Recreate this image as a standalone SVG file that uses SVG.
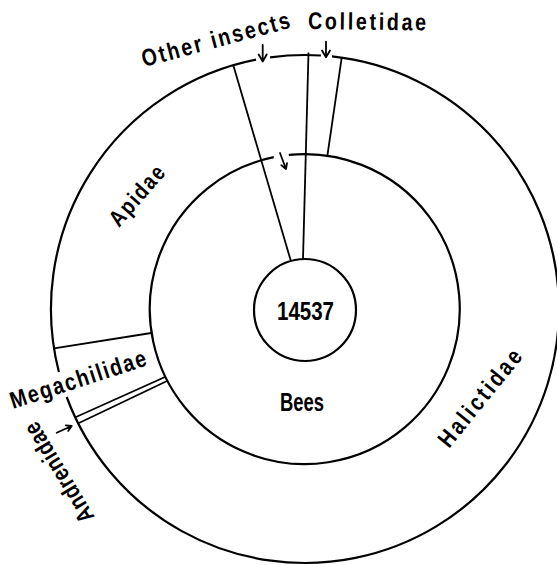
<svg xmlns="http://www.w3.org/2000/svg" width="557" height="565" viewBox="0 0 557 565">
<style>
.c{fill:none;stroke:#000;stroke-width:2.2}
.l{fill:none;stroke:#000;stroke-width:1.8}
.a{fill:none;stroke:#000;stroke-width:1.8;stroke-linecap:round;stroke-linejoin:round}
.t{font-family:"Liberation Sans",Arial,sans-serif;font-weight:bold;font-size:24px;fill:#000}
</style>
<rect width="557" height="565" fill="#fff"/>
<g id="outer-ring">
<path class="c" d="M332,56.4 A254,254 0 1 1 66.7,397"/>
<path class="c" d="M58.9,372 A254,254 0 0 1 256.1,59.7"/>
<path class="c" d="M270.1,57.4 A254,254 0 0 1 320.9,55.5"/>
</g>
<g id="bees-ring">
<path class="c" d="M288.8,154.9 A155,155 0 1 1 273.8,157.2"/>
</g>
<g id="center">
<circle class="c" cx="305" cy="310" r="51"/>
<text class="t" x="277" y="320" textLength="57" lengthAdjust="spacingAndGlyphs" style="font-size:26px">14537</text>
</g>
<g id="connectors">
<line class="l" x1="233.3" y1="65.3" x2="290.6" y2="260.1"/>
<line class="l" x1="308.5" y1="52.5" x2="303" y2="259"/>
<line class="l" x1="341.7" y1="57.7" x2="327.4" y2="155.6"/>
<line class="l" x1="54.1" y1="348.3" x2="151.2" y2="333"/>
<line class="l" x1="76" y1="417" x2="165" y2="377"/>
<line class="l" x1="79" y1="423" x2="167" y2="381"/>
<path class="a" d="M262.7,45 V61.5 M258.7,54.5 L262.7,61.5 L266.7,54.5"/>
<path class="a" d="M326,41.7 V57.3 M322,50.5 L326,57.3 L330,50.5"/>
<path class="a" d="M280,153 L286,169 M281.4,165.2 L286,169 L287,163.1"/>
<path class="a" d="M56.7,432.7 L71.7,426 M65.7,425.4 L71.7,426 L68.2,430.9"/>
</g>
<g id="labels">
<text class="t" x="0" y="0" transform="translate(144 67) rotate(-15) scale(0.82 1)" textLength="186" lengthAdjust="spacing">Other insects</text>
<text class="t" x="0" y="0" transform="translate(308 29) rotate(0.7) scale(0.82 1)" textLength="144" lengthAdjust="spacing">Colletidae</text>
<text class="t" x="0" y="0" transform="translate(119 228) rotate(-49) scale(0.82 1)" textLength="88" lengthAdjust="spacing" style="font-size:23px">Apidae</text>
<text class="t" x="0" y="0" transform="translate(449 449) rotate(-51) scale(0.82 1)" textLength="144" lengthAdjust="spacing">Halictidae</text>
<text class="t" x="0" y="0" transform="translate(13 409) rotate(-18) scale(0.82 1)" textLength="173" lengthAdjust="spacing">Megachilidae</text>
<text class="t" x="0" y="0" transform="translate(95 517) rotate(-121) scale(0.82 1)" textLength="138" lengthAdjust="spacing">Andrenidae</text>
<text class="t" x="280" y="411" textLength="44" lengthAdjust="spacingAndGlyphs" style="font-size:25px">Bees</text>
</g>
</svg>
